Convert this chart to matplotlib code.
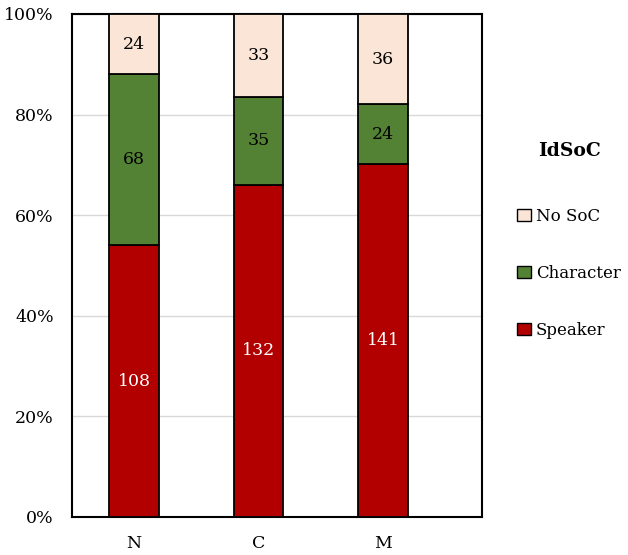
import numpy as np
import matplotlib.pyplot as plt
from matplotlib.patches import Patch

plt.rcParams['font.family'] = ['DejaVu Serif']

# Counts per group
groups = ['N', 'C', 'M']
speaker = [108, 132, 141]
character = [68, 35, 24]
no_soc = [24, 33, 36]

series = [('Speaker', speaker, '#B20000', 'white'),
          ('Character', character, '#548235', 'black'),
          ('No SoC', no_soc, '#FBE5D6', 'black')]

totals = np.array(speaker) + np.array(character) + np.array(no_soc)

fig = plt.figure(figsize=(6.28, 5.55), dpi=100)
ax = fig.add_axes([0.1146, 0.0685, 0.6529, 0.9063])

x = np.arange(len(groups))
bottom = np.zeros(len(groups))
for name, vals, color, tcolor in series:
    share = np.array(vals) / totals
    ax.bar(x, share, 0.4, bottom=bottom, color=color, edgecolor='black',
           linewidth=1.3, zorder=3)
    for xi, b, s, v in zip(x, bottom, share, vals):
        ax.text(xi, b + s / 2, str(v), ha='center', va='center',
                color=tcolor, fontsize=12.5, zorder=4)
    bottom += share

ax.set_xlim(-0.498, 2.795)
ax.set_ylim(0, 1)
ax.set_xticks(x)
ax.set_xticklabels(groups)
ax.set_yticks(np.arange(0, 1.01, 0.2))
ax.set_yticklabels([f'{int(round(t * 100))}%' for t in np.arange(0, 1.01, 0.2)])
ax.tick_params(length=0, labelsize=12.5)
ax.tick_params(axis='y', pad=13)
ax.tick_params(axis='x', pad=13)
ax.yaxis.grid(True, color='#D9D9D9', linewidth=1, zorder=0)
for sp in ax.spines.values():
    sp.set_linewidth(1.5)
    sp.set_color('black')

handles = [Patch(facecolor=c, edgecolor='black', label=n) for n, _, c, _ in series[::-1]]
leg = fig.legend(handles=handles, title='IdSoC', loc='center left',
                 bbox_to_anchor=(0.8, 0.56), frameon=False, fontsize=12,
                 title_fontproperties={'weight': 'bold', 'size': 13.5},
                 handlelength=0.8, handleheight=0.8, handletextpad=0.3,
                 labelspacing=2.4)
leg._legend_box.align = 'center'
leg.get_title().set_position((0, 8))

fig.savefig('out.png', dpi=100)
